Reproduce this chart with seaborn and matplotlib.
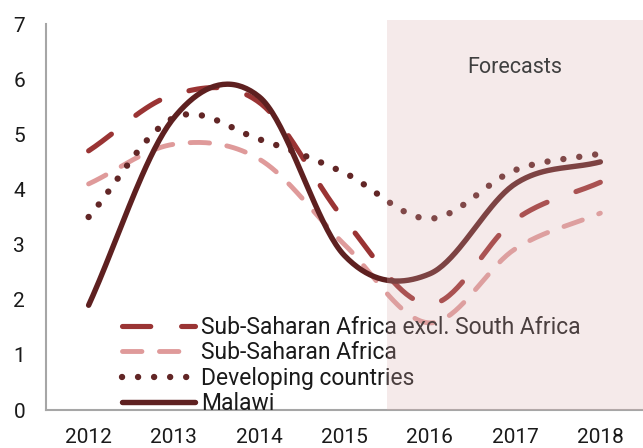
import numpy as np
import matplotlib
matplotlib.use("Agg")
import matplotlib.pyplot as plt
import seaborn as sns

years = ["2012", "2013", "2014", "2015", "2016", "2017", "2018"]
ssa_excl_sa = [4.7, 5.72, 5.58, 3.45, 1.92, 3.45, 4.13]
ssa = [4.1, 4.82, 4.55, 3.0, 1.58, 2.92, 3.57]
developing = [3.5, 5.3, 4.91, 4.3, 3.47, 4.35, 4.65]
malawi = [1.9, 5.3, 5.68, 2.8, 2.47, 4.1, 4.5]
forecast_from = 4  # index of first forecast year


def smooth(vals, n=40):
    # catmull-rom curve through the points, like excel's "smoothed line"
    p = np.asarray(vals, dtype=float)
    pad = np.r_[2 * p[0] - p[1], p, 2 * p[-1] - p[-2]]
    xs, ys = [], []
    for i in range(len(p) - 1):
        p0, p1, p2, p3 = pad[i:i + 4]
        m1 = (p2 - p0) / 2
        m2 = (p3 - p1) / 2
        t = np.linspace(0, 1, n, endpoint=(i == len(p) - 2))
        h00 = 2 * t**3 - 3 * t**2 + 1
        h10 = t**3 - 2 * t**2 + t
        h01 = -2 * t**3 + 3 * t**2
        h11 = t**3 - t**2
        xs.append(i + t)
        ys.append(h00 * p1 + h10 * m1 + h01 * p2 + h11 * m2)
    return np.concatenate(xs), np.concatenate(ys)


sns.set_style("white")
plt.rcParams["font.family"] = ["Roboto", "DejaVu Sans"]

fig = plt.figure(figsize=(6.43, 4.48), dpi=100)
ax = fig.add_axes([0.0715, 0.0848, 0.9285, 0.8616])

series = [
    ("Sub-Saharan Africa excl. South Africa", ssa_excl_sa, "#9a3434", 3.7, (0, (5.5, 6.0))),
    ("Sub-Saharan Africa", ssa, "#df9a9a", 3.5, (0, (4.0, 3.6))),
    ("Developing countries", developing, "#622626", 4.6, (0, (0.01, 2.5))),
    ("Malawi", malawi, "#5e2020", 3.9, "-"),
]
for name, vals, col, lw, ls in series:
    xs, ys = smooth(vals)
    sns.lineplot(x=xs, y=ys, ax=ax, color=col, lw=lw, linestyle=ls, label=name,
                 sort=False, estimator=None, zorder=3)
    ln = ax.lines[-1]
    ln.set_dash_capstyle("round")
    ln.set_solid_capstyle("round")

ax.axvspan(forecast_from - 0.5, len(years) - 0.5, ymax=1.01, clip_on=False,
           color=(219/255, 174/255, 174/255), alpha=0.25, lw=0, zorder=10)
ax.text(5, 6.22, "Forecasts", ha="center", va="center", fontsize=15.5,
        color="#404040", zorder=11)

ax.set_xlim(-0.5, len(years) - 0.5)
ax.set_ylim(0, 7)
ax.set_yticks(range(0, 8))
ax.set_xticks(np.arange(0.5, len(years) - 1, 1.0))
ax.set_xticklabels([])
ax.set_xticks(range(len(years)), minor=True)
ax.set_xticklabels(years, minor=True)
ax.tick_params(axis="x", which="major", length=6, width=1.3, color="#a6a6a6", direction="out")
ax.tick_params(axis="x", which="minor", length=0, pad=13, labelsize=15, labelcolor="#1a1a1a")
ax.tick_params(axis="y", length=6, width=1.3, color="#a6a6a6", direction="out",
               labelsize=15, labelcolor="#1a1a1a", pad=9)
ax.grid(False)
for s in ["top", "right"]:
    ax.spines[s].set_visible(False)
for s in ["left", "bottom"]:
    ax.spines[s].set_color("#a6a6a6")
    ax.spines[s].set_linewidth(1.5)

leg = ax.legend(loc="lower left", bbox_to_anchor=(0.127, -0.013), frameon=False,
                fontsize=16.5, handlelength=3.2, handletextpad=0.26, labelspacing=0.1,
                borderaxespad=0, borderpad=0)
leg.set_zorder(5)
for t in leg.get_texts():
    t.set_color("#1a1a1a")
for h in leg.legend_handles:
    h.set_dash_capstyle("round")
    h.set_solid_capstyle("round")

fig.savefig("out.png", dpi=100)
